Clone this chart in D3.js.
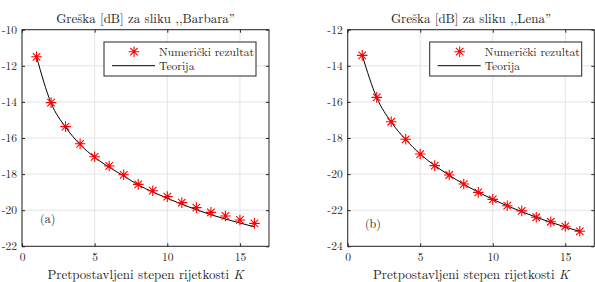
<!DOCTYPE html>
<html><head><meta charset="utf-8">
<script src="https://cdn.jsdelivr.net/npm/d3@7"></script>
<style>body{margin:0;background:#fff}svg{display:block}</style>
</head><body>
<svg id="c" width="595" height="282"></svg>
<script>
const K = [1,2,3,4,5,6,7,8,9,10,11,12,13,14,15,16];
const barbaraNum = [-11.50,-14.04,-15.37,-16.32,-17.04,-17.55,-18.04,-18.57,-18.92,-19.25,-19.58,-19.86,-20.12,-20.32,-20.54,-20.73];
const barbaraTeo = [-11.50,-14.06,-15.40,-16.36,-17.07,-17.62,-18.10,-18.60,-18.99,-19.34,-19.67,-19.97,-20.25,-20.49,-20.71,-20.92];
const lenaNum = [-13.42,-15.75,-17.10,-18.07,-18.89,-19.53,-20.05,-20.55,-21.01,-21.40,-21.75,-22.04,-22.39,-22.64,-22.89,-23.17];
const lenaTeo = [-13.42,-15.76,-17.12,-18.09,-18.89,-19.53,-20.06,-20.56,-21.00,-21.40,-21.76,-22.08,-22.39,-22.67,-22.93,-23.18];
const xTicks = [0,5,10,15];
const barbaraYTicks = [-22,-20,-18,-16,-14,-12,-10];
const lenaYTicks = [-24,-22,-20,-18,-16,-14,-12];
const titles = ["Greška [dB] za sliku ,,Barbara”","Greška [dB] za sliku ,,Lena”"];
const panelLabels = ["(a)","(b)"];
const legendLabels = ["Numerički rezultat","Teorija"];

const FONT = '"Latin Modern Roman","Liberation Serif",serif';
const svg = d3.select("#c");
const panels = [
  {left:22, right:269, num:barbaraNum, teo:barbaraTeo, yd:[-22,-10], yt:barbaraYTicks, title:titles[0], lab:panelLabels[0], labPos:[1.24,-20.5]},
  {left:347.7, right:594.3, num:lenaNum, teo:lenaTeo, yd:[-24,-12], yt:lenaYTicks, title:titles[1], lab:panelLabels[1], labPos:[1.19,-22.76]}
];
const plotTop = 29.7, plotBottom = 246.3;
const axisCol = "#262626", gridCol = "#e3e3e3";

function star(g, cx, cy, r) {
  const d = r*0.7071;
  const p = `M${cx-r},${cy}L${cx+r},${cy}M${cx},${cy-r}L${cx},${cy+r}M${cx-d},${cy-d}L${cx+d},${cy+d}M${cx-d},${cy+d}L${cx+d},${cy-d}`;
  g.append("path").attr("d", p).attr("stroke","#ff0000").attr("stroke-width",1.1).attr("fill","none");
}
function txt(g, x, y, s, size) {
  return g.append("text").attr("x",x).attr("y",y).style("font-family",FONT).style("font-size",size+"px").style("fill",axisCol).text(s);
}

panels.forEach(P => {
  const x = d3.scaleLinear().domain([0,17]).range([P.left,P.right]);
  const y = d3.scaleLinear().domain(P.yd).range([plotBottom,plotTop]);
  const g = svg.append("g");
  xTicks.forEach(t => g.append("line").attr("x1",x(t)).attr("x2",x(t)).attr("y1",plotTop).attr("y2",plotBottom).attr("stroke",gridCol).attr("stroke-width",1));
  P.yt.forEach(t => g.append("line").attr("x1",P.left).attr("x2",P.right).attr("y1",y(t)).attr("y2",y(t)).attr("stroke",gridCol).attr("stroke-width",1));
  const xa = g.append("g").attr("transform",`translate(0,${plotBottom})`)
    .call(d3.axisBottom(x).tickValues(xTicks).tickSize(-3).tickPadding(7).tickFormat(d3.format("d")));
  const xa2 = g.append("g").attr("transform",`translate(0,${plotTop})`)
    .call(d3.axisTop(x).tickValues(xTicks).tickSize(-3).tickFormat(""));
  const ya = g.append("g").attr("transform",`translate(${P.left},0)`)
    .call(d3.axisLeft(y).tickValues(P.yt).tickSize(-3).tickPadding(5).tickFormat(d => String(d)));
  const ya2 = g.append("g").attr("transform",`translate(${P.right},0)`)
    .call(d3.axisRight(y).tickValues(P.yt).tickSize(-3).tickFormat(""));
  [xa,xa2,ya,ya2].forEach(a => {
    a.selectAll("line").attr("stroke",axisCol);
    a.selectAll("text").style("font-family",FONT).style("font-size","11.5px").style("fill",axisCol);
  });
  g.selectAll(".domain").remove();
  g.append("rect").attr("x",P.left).attr("y",plotTop).attr("width",P.right-P.left).attr("height",plotBottom-plotTop)
    .attr("fill","none").attr("stroke",axisCol).attr("stroke-width",1);
  const line = d3.line().x((d,i)=>x(K[i])).y(d=>y(d)).curve(d3.curveMonotoneX);
  g.append("path").attr("d",line(P.teo)).attr("fill","none").attr("stroke","#000").attr("stroke-width",1);
  P.num.forEach((v,i) => star(g, x(K[i]), y(v), 5.3));
  txt(g, x(P.labPos[0]), y(P.labPos[1]), P.lab, 12).attr("dy","0.35em");
  txt(g, (P.left+P.right)/2, 23, P.title, 13).attr("text-anchor","middle");
  const xl = txt(g, (P.left+P.right)/2, 279, "", 13).attr("text-anchor","middle");
  xl.append("tspan").text("Pretpostavljeni stepen rijetkosti ");
  xl.append("tspan").style("font-style","italic").text("K");
  const lx = P.left + 82, ly = 42, lw = 152, lh = 34;
  g.append("rect").attr("x",lx).attr("y",ly).attr("width",lw).attr("height",lh).attr("fill","#fff").attr("stroke",axisCol).attr("stroke-width",1);
  star(g, lx+30, ly+9.7, 5.3);
  g.append("line").attr("x1",lx+8).attr("x2",lx+51).attr("y1",ly+23.7).attr("y2",ly+23.7).attr("stroke","#000").attr("stroke-width",1);
  txt(g, lx+55, ly+9.7, legendLabels[0], 11.6).attr("dy","0.35em");
  txt(g, lx+55, ly+23.9, legendLabels[1], 11.6).attr("dy","0.35em");
});
</script>
</body></html>
